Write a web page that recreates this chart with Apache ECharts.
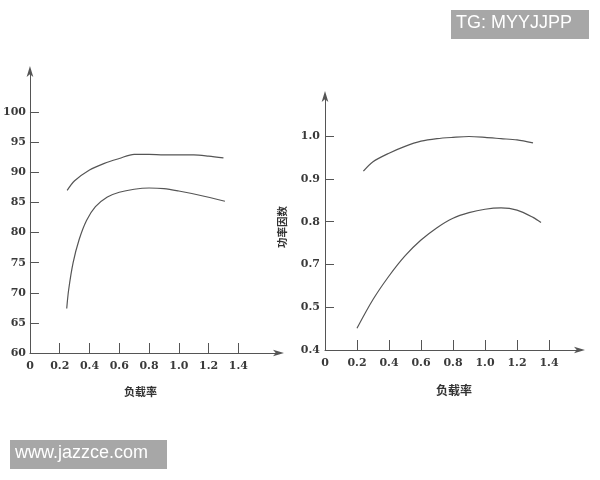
<!DOCTYPE html>
<html>
<head>
<meta charset="utf-8">
<script src="https://cdn.jsdelivr.net/npm/echarts@6/dist/echarts.min.js"></script>
<style>html,body{margin:0;padding:0;background:#fff;}#c{width:600px;height:480px;}</style>
</head>
<body>
<div id="c"></div>
<script>
// ---- data ----
var loadRateTicks = [0, 0.2, 0.4, 0.6, 0.8, 1.0, 1.2, 1.4];
var loadRateTickMarks = [0.2, 0.4, 0.6, 0.8, 1.0, 1.2, 1.4];
var effTicks = [60, 65, 70, 75, 80, 85, 90, 95, 100];
var effTickMarks = [65, 70, 75, 80, 85, 90, 95, 100];
// power-factor axis: tick positions and the labels printed at them
var pfTickPos = [0.5, 0.6, 0.7, 0.8, 0.9, 1.0];
var pfTickLabels = ['0.4', '0.5', '0.7', '0.8', '0.9', '1.0'];

// efficiency curves (left chart)
var effUpperX = [0.25, 0.3, 0.4, 0.5, 0.6, 0.7, 0.8, 0.9, 1.0, 1.1, 1.2, 1.3];
var effUpperY = [87.0, 88.6, 90.4, 91.5, 92.3, 93.0, 93.0, 92.9, 92.9, 92.9, 92.7, 92.4];
var effLowerX = [0.247, 0.26, 0.29, 0.33, 0.38, 0.44, 0.52, 0.6, 0.7, 0.8, 0.9, 1.0, 1.14, 1.31];
var effLowerY = [67.4, 70.5, 75.0, 78.8, 82.0, 84.3, 85.9, 86.7, 87.2, 87.4, 87.3, 86.9, 86.2, 85.2];

// power factor curves (right chart), in axis-position units
var pfUpperX = [0.24, 0.3, 0.4, 0.5, 0.6, 0.7, 0.8, 0.9, 1.0, 1.1, 1.2, 1.3];
var pfUpperY = [0.918, 0.940, 0.960, 0.976, 0.988, 0.994, 0.997, 0.999, 0.997, 0.994, 0.991, 0.984];
var pfLowerX = [0.2, 0.3, 0.4, 0.5, 0.6, 0.7, 0.8, 0.9, 1.0, 1.1, 1.2, 1.3, 1.35];
var pfLowerY = [0.551, 0.618, 0.673, 0.720, 0.757, 0.786, 0.808, 0.821, 0.829, 0.832, 0.827, 0.810, 0.798];

function zip(xs, ys) { return xs.map(function (x, i) { return [x, ys[i]]; }); }

var lineCol = '#555';
var labelFont = { fontFamily: 'DejaVu Serif', fontSize: 11, fontWeight: 'bold', color: '#3a3a3a' };
function fmtX(v) { return v === 0 ? '0' : v.toFixed(1); }

function xAxisCfg(gridIndex, max) {
  return {
    type: 'value', gridIndex: gridIndex, min: 0, max: max,
    splitLine: { show: false },
    axisLine: { show: true, lineStyle: { color: lineCol, width: 1 }, symbol: ['none', 'arrow'], symbolSize: [5, 11], symbolOffset: [0, 4] },
    axisTick: { show: true, inside: true, length: 10, lineStyle: { color: lineCol }, customValues: loadRateTickMarks },
    axisLabel: Object.assign({ margin: 8, customValues: loadRateTicks, formatter: fmtX }, labelFont)
  };
}

function curve(xi, yi, xs, ys) {
  return {
    type: 'line', xAxisIndex: xi, yAxisIndex: yi, data: zip(xs, ys),
    smooth: 0.3, showSymbol: false,
    lineStyle: { color: lineCol, width: 1.2 }
  };
}

var chart = echarts.init(document.getElementById('c'), null, { renderer: 'canvas' });
chart.setOption({
  animation: false,
  backgroundColor: '#fff',
  grid: [
    { left: 28, top: 70, width: 252, height: 283 },
    { left: 325, top: 95, width: 256, height: 255 }
  ],
  xAxis: [xAxisCfg(0, 1.68), xAxisCfg(1, 1.6)],
  yAxis: [
    {
      type: 'value', gridIndex: 0, min: 60, max: 107,
      splitLine: { show: false },
      axisLine: { show: true, lineStyle: { color: lineCol, width: 1 }, symbol: ['none', 'arrow'], symbolSize: [5, 11], symbolOffset: [0, 4] },
      axisTick: { show: true, inside: true, length: 9, lineStyle: { color: lineCol }, customValues: effTickMarks },
      axisLabel: Object.assign({ margin: 4, customValues: effTicks, formatter: function (v) { return String(v); } }, labelFont)
    },
    {
      type: 'value', gridIndex: 1, min: 0.5, max: 1.096,
      splitLine: { show: false },
      axisLine: { show: true, lineStyle: { color: lineCol, width: 1 }, symbol: ['none', 'arrow'], symbolSize: [5, 11], symbolOffset: [0, 4] },
      axisTick: { show: true, inside: true, length: 9, lineStyle: { color: lineCol }, customValues: pfTickPos.slice(1) },
      axisLabel: Object.assign({
        margin: 5, customValues: pfTickPos,
        formatter: function (v) {
          var i = Math.round((v - pfTickPos[0]) * 10);
          return pfTickLabels[i] || '';
        }
      }, labelFont)
    }
  ],
  graphic: [
    { type: 'text', left: 124, top: 386, style: { text: '负载率', font: 'bold 11px "Noto Sans CJK SC"', fill: '#333' } },
    { type: 'text', left: 436, top: 384, style: { text: '负载率', font: 'bold 12px "Noto Sans CJK SC"', fill: '#333' } },
    { type: 'text', x: 277, y: 248, rotation: Math.PI / 2, style: { text: '功率因数', font: 'bold 10.5px "Noto Sans CJK SC"', fill: '#333' } },
    { type: 'rect', shape: { x: 451, y: 10, width: 138, height: 29 }, style: { fill: '#a7a7a7' } },
    { type: 'text', x: 456, y: 14, style: { text: 'TG: MYYJJPP', font: '18px "Liberation Sans"', fill: '#fff' } },
    { type: 'rect', shape: { x: 10, y: 440, width: 157, height: 29 }, style: { fill: '#a7a7a7' } },
    { type: 'text', x: 15, y: 444, style: { text: 'www.jazzce.com', font: '18px "Liberation Sans"', fill: '#fff' } }
  ],
  series: [
    curve(0, 0, effUpperX, effUpperY),
    curve(0, 0, effLowerX, effLowerY),
    curve(1, 1, pfUpperX, pfUpperY),
    curve(1, 1, pfLowerX, pfLowerY)
  ]
});
</script>
</body>
</html>
